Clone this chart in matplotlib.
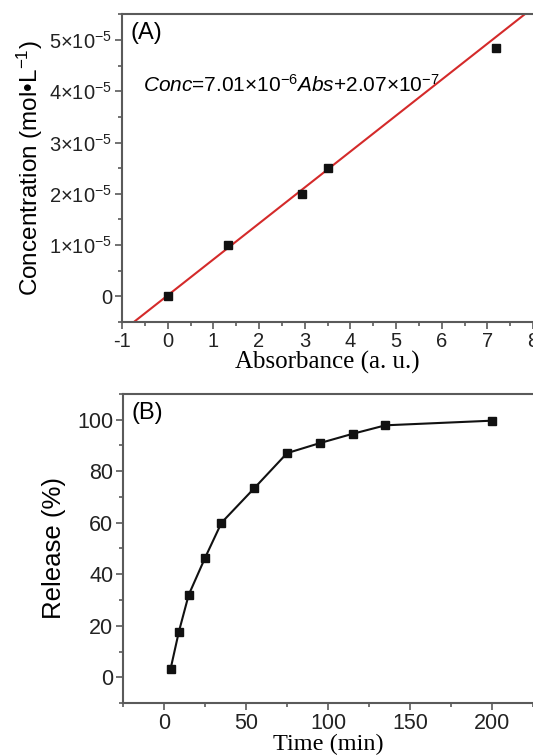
import matplotlib
matplotlib.use("Agg")
import matplotlib.pyplot as plt
from matplotlib.ticker import MultipleLocator, FixedLocator, FixedFormatter

plt.rcParams["font.family"] = "Liberation Sans"
plt.rcParams["mathtext.fontset"] = "custom"
plt.rcParams["mathtext.rm"] = "Liberation Sans"
plt.rcParams["mathtext.it"] = "Liberation Sans:italic"
plt.rcParams["mathtext.default"] = "regular"
plt.rcParams["axes.unicode_minus"] = False

# panel A: calibration points and fit
abs_vals = [0.0, 1.33, 2.93, 3.5, 7.2]
conc_vals = [0.0, 1.0e-5, 2.0e-5, 2.5e-5, 4.85e-5]
slope = 7.01e-6
intercept = 2.07e-7
a_xticks = [-1, 0, 1, 2, 3, 4, 5, 6, 7, 8]
a_yticks = [0, 1e-5, 2e-5, 3e-5, 4e-5, 5e-5]
a_ylabels = ["0", r"1×10$^{-5}$", r"2×10$^{-5}$", r"3×10$^{-5}$", r"4×10$^{-5}$", r"5×10$^{-5}$"]

# panel B: release profile
time_min = [4, 9, 15, 25, 35, 55, 75, 95, 115, 135, 200]
release = [3.4, 17.7, 32.0, 46.4, 60.0, 73.4, 87.0, 90.9, 94.5, 97.8, 99.6]

spine_col = "#5a5a5a"
tick_col = "#222222"

def style_axes(ax, size):
    for s in ["left", "bottom", "top"]:
        ax.spines[s].set_color(spine_col)
        ax.spines[s].set_linewidth(1.5)
    ax.spines["right"].set_visible(False)
    ax.tick_params(which="both", direction="out", color=spine_col, width=1.2,
                   labelsize=size, labelcolor=tick_col, top=False, right=False)
    ax.tick_params(which="major", length=5, pad=2)
    ax.tick_params(which="minor", length=3)

fig = plt.figure(figsize=(5.33, 7.56), dpi=100)

ax1 = fig.add_axes([0.229, 0.574, 0.771, 0.407])
ax1.plot(abs_vals, conc_vals, "s", color="#111111", markersize=5.5, zorder=3)
xfit = [-1, 8]
ax1.plot(xfit, [slope * x + intercept for x in xfit], color="#d42a2a", lw=1.5)
ax1.set_xlim(-1, 8)
ax1.set_ylim(-0.5e-5, 5.5e-5)
ax1.xaxis.set_major_locator(FixedLocator(a_xticks))
ax1.xaxis.set_minor_locator(MultipleLocator(0.5))
ax1.yaxis.set_major_locator(FixedLocator(a_yticks))
ax1.yaxis.set_major_formatter(FixedFormatter(a_ylabels))
ax1.yaxis.set_minor_locator(MultipleLocator(0.5e-5))
style_axes(ax1, 14.5)
ax1.set_xlabel("Absorbance (a. u.)", family="Liberation Serif", fontsize=18, labelpad=0)
ax1.set_ylabel(r"Concentration (mol•L$^{-1}$)", fontsize=17.5, labelpad=3)
ax1.text(0.02, 0.975, "(A)", transform=ax1.transAxes, fontsize=17, va="top", ha="left")
ax1.text(0.05, 0.77, r"$\mathit{Conc}$=7.01×10$^{-6}$$\mathit{Abs}$+2.07×10$^{-7}$",
         transform=ax1.transAxes, fontsize=15, va="center", ha="left")

ax2 = fig.add_axes([0.231, 0.070, 0.769, 0.409])
ax2.plot(time_min, release, "-s", color="#111111", markersize=5.5, lw=1.5)
ax2.set_xlim(-25, 225)
ax2.set_ylim(-10, 110)
ax2.xaxis.set_major_locator(FixedLocator([0, 50, 100, 150, 200]))
ax2.xaxis.set_minor_locator(MultipleLocator(25))
ax2.yaxis.set_major_locator(MultipleLocator(20))
ax2.yaxis.set_minor_locator(MultipleLocator(10))
style_axes(ax2, 15.5)
ax2.set_xlabel("Time (min)", family="Liberation Serif", fontsize=17.5, labelpad=0)
ax2.set_ylabel("Release (%)", fontsize=18.5, labelpad=8)
ax2.text(0.02, 0.975, "(B)", transform=ax2.transAxes, fontsize=17, va="top", ha="left")

fig.savefig("out.png", dpi=100)
